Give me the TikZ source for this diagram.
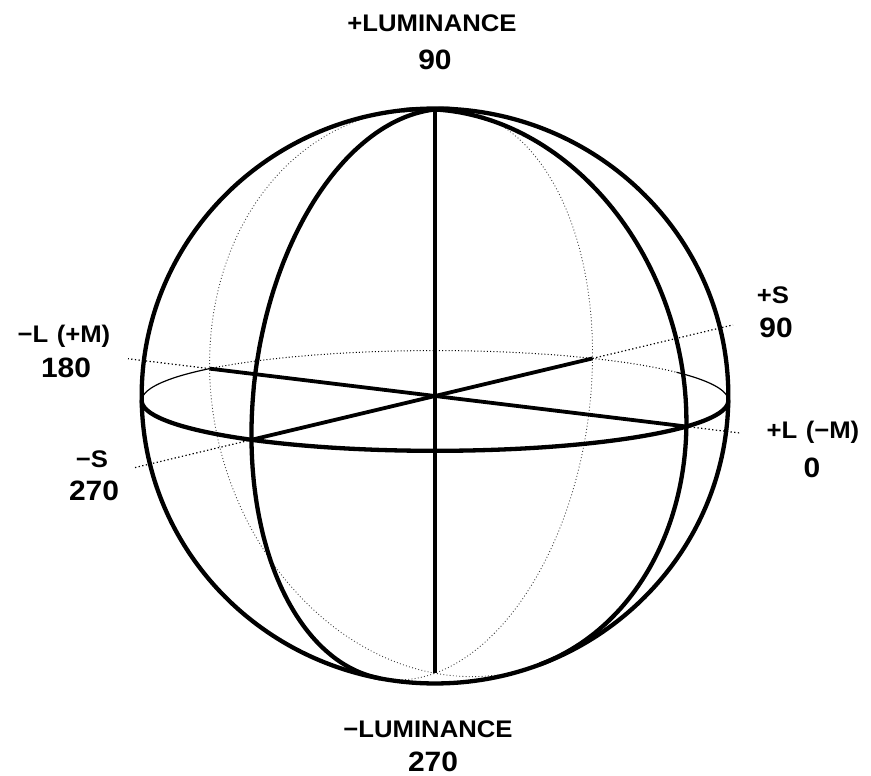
\documentclass[tikz,border=0pt]{standalone}
\usepackage{fontspec}
\setmainfont{Liberation Sans}
\newfontfamily\lblfont[FakeStretch=1.07]{Liberation Sans}
\pgfmathsetmacro\el{10}
\pgfmathsetmacro\az{35.5}
\pgfmathsetmacro\se{sin(\el)}
\pgfmathsetmacro\ce{cos(\el)}
\pgfmathsetmacro\sa{sin(\az)}
\pgfmathsetmacro\ca{cos(\az)}
\def\DD{10.5}
\def\ff{3066}
\def\cx{435}
\def\cy{396}
\def\ys{0.98}
\pgfmathsetmacro\rs{\ff/sqrt(\DD*\DD-1)}
\pgfmathsetmacro\rsy{\rs*\ys}
% split angles (front = visible part)
\pgfmathsetmacro\Lphi{atan2(\se,\sa*\ce)}
\pgfmathsetmacro\Ldel{acos(1/(\DD*sqrt((\sa*\ce)^2+\se^2)))}
\pgfmathsetmacro\Lfa{\Lphi-\Ldel}
\pgfmathsetmacro\Lfb{\Lphi+\Ldel}
\pgfmathsetmacro\Lbb{\Lphi-\Ldel+360}
\pgfmathsetmacro\Sphi{atan2(\se,-\ca*\ce)}
\pgfmathsetmacro\Sdel{acos(1/(\DD*sqrt((\ca*\ce)^2+\se^2)))}
\pgfmathsetmacro\Sfa{\Sphi-\Sdel}
\pgfmathsetmacro\Sfb{\Sphi+\Sdel}
\pgfmathsetmacro\Sbb{\Sphi-\Sdel+360}
\pgfmathsetmacro\Edel{acos(1/(\DD*\ce))}
\pgfmathsetmacro\Efa{90-\Edel}
\pgfmathsetmacro\Efb{90+\Edel}
\pgfmathsetmacro\Ebb{450-\Edel}
\begin{document}
\begin{tikzpicture}[x=1pt,y=-1pt,
  bold/.style={line width=4.3pt, line cap=round, line join=round},
  axisline/.style={line width=3.8pt, line cap=butt},
  backdot/.style={line width=0.9pt, dash pattern=on 0.9pt off 2.3pt, black!75},
  equatordot/.style={line width=1pt, dash pattern=on 1pt off 2.2pt},
  thinback/.style={line width=1.2pt},
  extdot/.style={line width=1.2pt, dash pattern=on 1.3pt off 2.4pt},
  lbl/.style={font=\lblfont\fontsize{24}{28}\selectfont\bfseries, inner sep=0pt, anchor=base},
  num/.style={font=\lblfont\fontsize{28}{32}\selectfont\bfseries, inner sep=0pt, anchor=base},
  declare function={
    prx(\a,\b,\c)=\cx+\ff*\a/(\DD-(\b*\se+\c*\ce));
    pry(\a,\b,\c)=\cy-\ys*\ff*(\b*\ce-\c*\se)/(\DD-(\b*\se+\c*\ce));
  }]
\useasboundingbox (0,0) rectangle (871,776);

% key points
\coordinate (O) at (\cx,\cy);
\coordinate (Lp) at ({prx(\ca,0,\sa)},{pry(\ca,0,\sa)});
\coordinate (Lm) at ({prx(-\ca,0,-\sa)},{pry(-\ca,0,-\sa)});
\coordinate (Sp) at ({prx(\sa,0,-\ca)},{pry(\sa,0,-\ca)});
\coordinate (Sm) at ({prx(-\sa,0,\ca)},{pry(-\sa,0,\ca)});
\coordinate (Np) at ({prx(0,1,0)},{pry(0,1,0)});
\coordinate (Bp) at ({prx(0,-1,0)},{pry(0,-1,0)});
\coordinate (Lpx) at ({prx(1.196*\ca,0,1.196*\sa)},{pry(1.196*\ca,0,1.196*\sa)});
\coordinate (Lmx) at ({prx(-1.389*\ca,0,-1.389*\sa)},{pry(-1.389*\ca,0,-1.389*\sa)});
\coordinate (Spx) at ({prx(2.03*\sa,0,-2.03*\ca)},{pry(2.03*\sa,0,-2.03*\ca)});
\coordinate (Smx) at ({prx(-1.559*\sa,0,1.559*\ca)},{pry(-1.559*\sa,0,1.559*\ca)});

% back (hidden) parts
\draw[backdot] plot[domain=\Lfb:\Lbb, samples=120]
  ({prx(\ca*cos(\x),sin(\x),\sa*cos(\x))},{pry(\ca*cos(\x),sin(\x),\sa*cos(\x))});
\draw[backdot] plot[domain=\Sfb:\Sbb, samples=120]
  ({prx(\sa*cos(\x),sin(\x),-\ca*cos(\x))},{pry(\sa*cos(\x),sin(\x),-\ca*cos(\x))});
\draw[equatordot] plot[domain=215.5:330, samples=80]
  ({prx(cos(\x),0,sin(\x))},{pry(cos(\x),0,sin(\x))});
\draw[thinback] plot[domain=\Efb:215.5, samples=40]
  ({prx(cos(\x),0,sin(\x))},{pry(cos(\x),0,sin(\x))});
\draw[thinback] plot[domain=330:\Ebb, samples=40]
  ({prx(cos(\x),0,sin(\x))},{pry(cos(\x),0,sin(\x))});

% axis extensions
\draw[extdot] (Lp) -- (Lpx);
\draw[extdot] (Lm) -- (Lmx);
\draw[extdot] (Sp) -- (Spx);
\draw[extdot] (Sm) -- (Smx);

% outline
\draw[bold] (O) ellipse [x radius=\rs, y radius=\rsy];

% front parts
\draw[bold] plot[domain=\Lfa:\Lfb, samples=120]
  ({prx(\ca*cos(\x),sin(\x),\sa*cos(\x))},{pry(\ca*cos(\x),sin(\x),\sa*cos(\x))});
\draw[bold] plot[domain=\Sfa:\Sfb, samples=120]
  ({prx(\sa*cos(\x),sin(\x),-\ca*cos(\x))},{pry(\sa*cos(\x),sin(\x),-\ca*cos(\x))});
\draw[bold] plot[domain=\Efa:\Efb, samples=120]
  ({prx(cos(\x),0,sin(\x))},{pry(cos(\x),0,sin(\x))});

% axes
\draw[axisline] (Lm) -- (Lp);
\draw[axisline] (Sm) -- (Sp);
\draw[line width=3.3pt] (Np) -- (Bp);

% labels
\node[lbl] (tlum) at (432,32) {+LUMINANCE};
\node[num] (t90) at (435,70) {90};
\node[lbl] (blum) at (428,737) {−LUMINANCE};
\node[num] (b270) at (433,771) {270};
\node[lbl] (lm) at (64,342) {−L\hspace{0.35em}(+M)};
\node[num] (l180) at (66,377) {180};
\node[lbl] (sm) at (92,467) {−S};
\node[num] (l270) at (94,500) {270};
\node[lbl] (sp) at (773,303) {+S};
\node[num] (r90) at (776,337) {90};
\node[lbl] (lp) at (813,438) {+L\hspace{0.35em}(−M)};
\node[num] (r0) at (812,477) {0};
\end{tikzpicture}
\end{document}
